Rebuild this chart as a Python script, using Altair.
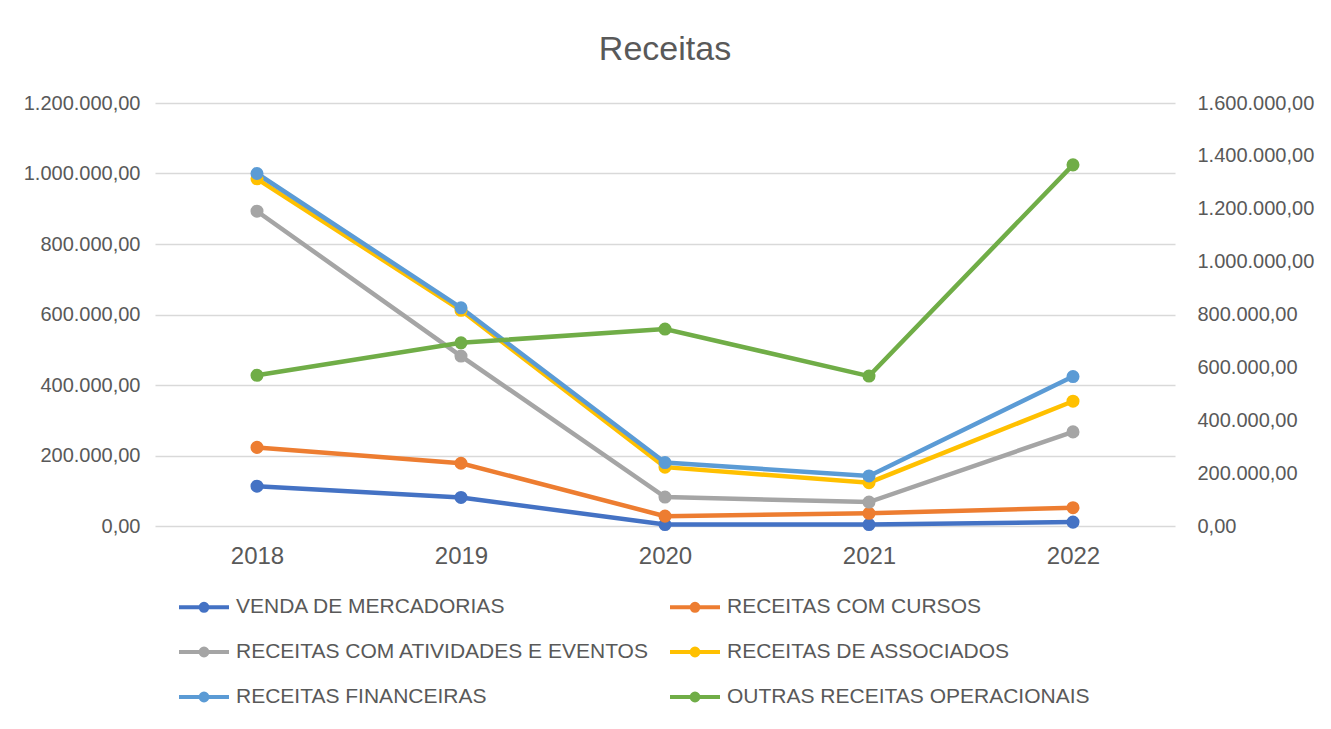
import altair as alt
import pandas as pd

years = ["2018", "2019", "2020", "2021", "2022"]
series_names = [
    "VENDA DE MERCADORIAS",
    "RECEITAS COM CURSOS",
    "RECEITAS COM ATIVIDADES E EVENTOS",
    "RECEITAS DE ASSOCIADOS",
    "RECEITAS FINANCEIRAS",
    "OUTRAS RECEITAS OPERACIONAIS",
]
venda = [113000, 81000, 4000, 4000, 11000]
cursos = [223000, 178000, 28000, 36000, 52000]
atividades = [893000, 482000, 82000, 68000, 267000]
associados = [985000, 612000, 167000, 123000, 354000]
financeiras = [1000000, 619000, 180000, 142000, 424000]
outras = [570000, 693000, 745000, 567000, 1366000]  # secondary axis
colors = ["#4472C4", "#ED7D31", "#A5A5A5", "#FFC000", "#5B9BD5", "#70AD47"]

left_ticks = [0, 200000, 400000, 600000, 800000, 1000000, 1200000]
right_ticks = [0, 200000, 400000, 600000, 800000, 1000000, 1200000, 1400000, 1600000]

rows = []
for name, vals in zip(series_names[:5], [venda, cursos, atividades, associados, financeiras]):
    for y, v in zip(years, vals):
        rows.append({"ano": y, "serie": name, "valor": v, "ord": series_names.index(name)})
df_left = pd.DataFrame(rows)
df_right = pd.DataFrame({"ano": years, "serie": series_names[5], "valor": outras, "ord": 5})

FONT = "Liberation Sans"
GRAY = "#595959"

color_scale = alt.Scale(domain=series_names, range=colors)
legend_symbol = (
    "M-1.667,0L1.667,0 "
    "M0.23,0A0.23,0.23 0 1,0 -0.23,0A0.23,0.23 0 1,0 0.23,0Z "
    "M0.1,0A0.1,0.1 0 1,0 -0.1,0A0.1,0.1 0 1,0 0.1,0Z"
)
legend = alt.Legend(
    title=None,
    orient="none",
    legendX=32,
    legendY=487,
    columns=2,
    direction="horizontal",
    symbolType=legend_symbol,
    symbolSize=900,
    symbolStrokeWidth=4,
    symbolFillColor="transparent",
    labelFont=FONT,
    labelFontSize=21,
    labelColor=GRAY,
    labelOffset=15,
    labelLimit=600,
    columnPadding=11,
    rowPadding=16,
    padding=0,
)

x_enc = alt.X(
    "ano:O",
    sort=years,
    scale=alt.Scale(paddingOuter=0.5, paddingInner=0),
    axis=alt.Axis(
        title=None, labelAngle=0, domain=False, ticks=False, grid=False,
        labelFont=FONT, labelFontSize=24, labelColor=GRAY, labelPadding=18,
    ),
)

y_left = alt.Y(
    "valor:Q",
    scale=alt.Scale(domain=[0, 1200000], nice=False),
    axis=alt.Axis(
        title=None, values=left_ticks, format=",.2f", domain=False, ticks=False,
        grid=True, gridColor="#d9d9d9", gridWidth=1.5,
        labelFont=FONT, labelFontSize=20, labelColor=GRAY, labelPadding=15,
    ),
)
y_right = alt.Y(
    "valor:Q",
    scale=alt.Scale(domain=[0, 1600000], nice=False),
    axis=alt.Axis(
        title=None, orient="right", values=right_ticks, format=",.2f",
        domain=False, ticks=False, grid=False,
        labelFont=FONT, labelFontSize=20, labelColor=GRAY, labelPadding=22,
    ),
)

base_left = alt.Chart(df_left)
line_left = base_left.mark_line(strokeWidth=4.5).encode(
    x=x_enc, y=y_left,
    color=alt.Color("serie:N", scale=color_scale, legend=legend),
    order="ord:Q",
)
pts_left = base_left.mark_circle(size=170, opacity=1).encode(
    x=x_enc, y=y_left,
    color=alt.Color("serie:N", scale=color_scale, legend=None),
)
left = alt.layer(line_left, pts_left)

base_right = alt.Chart(df_right)
line_right = base_right.mark_line(strokeWidth=4.5).encode(
    x=x_enc, y=y_right,
    color=alt.Color("serie:N", scale=color_scale, legend=legend),
)
pts_right = base_right.mark_circle(size=170, opacity=1).encode(
    x=x_enc, y=y_right,
    color=alt.Color("serie:N", scale=color_scale, legend=None),
)
right = alt.layer(line_right, pts_right)

chart = (
    alt.layer(left, right)
    .resolve_scale(y="independent")
    .properties(
        width=1020,
        height=423,
        autosize=alt.AutoSizeParams(type="none"),
        padding={"left": 147, "top": 95, "right": 148, "bottom": 195},
        title=alt.TitleParams(
            "Receitas", font=FONT, fontSize=34, fontWeight="normal",
            color=GRAY, anchor="middle", offset=26,
        ),
    )
    .configure(
        locale={"number": {"decimal": ",", "thousands": ".", "grouping": [3], "currency": ["R$", ""]}}
    )
    .configure_view(stroke=None)
)

chart.save("out.html", embed_options={"renderer": "svg", "actions": False})
